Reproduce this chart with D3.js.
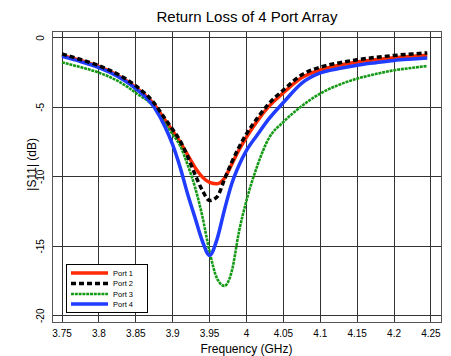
<!DOCTYPE html>
<html><head><meta charset="utf-8">
<script src="https://cdn.jsdelivr.net/npm/d3@7"></script>
<style>
html,body{margin:0;padding:0;background:#fff;}
svg{display:block;font-family:"Liberation Sans",Arial,sans-serif;}
</style></head>
<body>
<svg id="chart" width="451" height="356"></svg>
<script>
const freq = [3.75,3.775,3.8,3.825,3.85,3.875,3.89,3.9,3.91,3.92,3.93,3.94,3.95,3.96,3.97,3.98,3.99,4.0,4.015,4.03,4.05,4.075,4.1,4.125,4.15,4.175,4.2,4.225,4.245];
const port1 = [-1.25,-1.62,-2.07,-2.68,-3.55,-4.8,-5.95,-6.7,-7.5,-8.4,-9.3,-10.0,-10.4,-10.5,-10.1,-9.1,-8.05,-7.13,-5.95,-4.95,-3.95,-2.85,-2.3,-1.97,-1.73,-1.56,-1.42,-1.31,-1.24];
const port2 = [-1.15,-1.55,-2.0,-2.6,-3.45,-4.7,-5.85,-6.6,-7.4,-8.5,-9.8,-10.95,-11.7,-11.45,-10.2,-8.95,-7.85,-6.9,-5.75,-4.75,-3.75,-2.65,-2.1,-1.8,-1.57,-1.4,-1.26,-1.15,-1.08];
const port3 = [-1.76,-2.1,-2.5,-3.08,-3.95,-5.0,-6.2,-6.95,-7.75,-9.1,-10.7,-12.8,-15.4,-17.3,-17.85,-16.8,-13.9,-11.7,-9.15,-7.25,-6.05,-4.9,-4.0,-3.38,-2.93,-2.6,-2.33,-2.15,-2.02];
const port4 = [-1.33,-1.7,-2.13,-2.75,-3.65,-5.0,-6.45,-7.7,-9.3,-11.2,-12.9,-14.6,-15.65,-14.5,-12.4,-10.5,-9.15,-8.1,-6.95,-5.85,-4.65,-3.25,-2.52,-2.2,-1.96,-1.78,-1.62,-1.52,-1.45];
const seriesNames = ["Port 1","Port 2","Port 3","Port 4"];
const xTicks = [3.75,3.8,3.85,3.9,3.95,4.0,4.05,4.1,4.15,4.2,4.25];
const xTickLabels = ["3.75","3.8","3.85","3.9","3.95","4","4.05","4.1","4.15","4.2","4.25"];
const yTicks = [0,-5,-10,-15,-20];
const yTickLabels = ["0","-5","-10","-15","-20"];

(function(){
const svg = d3.select("#chart");
const pL = 52, pR = 441, pT = 31, pB = 322.7;
const x = d3.scaleLinear().domain([3.7364, 4.2636]).range([pL, pR]);
const y = d3.scaleLinear().domain([-20.5, 0.5]).range([pB, pT]);

svg.append("text").attr("x", (pL+pR)/2 + 0.5).attr("y", 22)
  .attr("text-anchor","middle").attr("font-size",15).attr("fill","#000")
  .text("Return Loss of 4 Port Array");

const grid = svg.append("g").attr("stroke","#333").attr("stroke-width",1).attr("shape-rendering","crispEdges");
grid.selectAll(".vx").data(xTicks).join("line")
  .attr("x1", d=>x(d)).attr("x2", d=>x(d)).attr("y1", pT).attr("y2", pB);
grid.selectAll(".hy").data(yTicks).join("line")
  .attr("y1", d=>y(d)).attr("y2", d=>y(d)).attr("x1", pL).attr("x2", pR);
svg.append("rect").attr("x", pL).attr("y", pT).attr("width", pR-pL).attr("height", pB-pT)
  .attr("fill","none").attr("stroke","#555").attr("stroke-width",1).attr("shape-rendering","crispEdges");

svg.append("g").selectAll("text").data(xTicks).join("text")
  .attr("x", d=>x(d)).attr("y", 337).attr("text-anchor","middle").attr("font-size",10).attr("fill","#000")
  .text((d,i)=>xTickLabels[i]);
svg.append("g").selectAll("text").data(yTicks).join("text")
  .attr("transform", d=>`translate(44,${y(d)}) rotate(-90)`)
  .attr("text-anchor","middle").attr("font-size",10).attr("fill","#000")
  .text((d,i)=>yTickLabels[i]);

svg.append("text").attr("x", (pL+pR)/2).attr("y", 353).attr("text-anchor","middle")
  .attr("font-size",12).attr("fill","#000").text("Frequency (GHz)");
svg.append("text").attr("transform", `translate(36,${y(-9.1)}) rotate(-90)`).attr("text-anchor","middle")
  .attr("font-size",12).attr("fill","#000").text("|S11| (dB)");

const styles = [
  {color:"#ff2a00", width:3.5, dash:null},
  {color:"#000000", width:3.5, dash:"5,3"},
  {color:"#169a16", width:2.6, dash:"3,0.8"},
  {color:"#1f3cff", width:3.5, dash:null}
];
const allSeries = [port1, port2, port3, port4];
const line = d3.line().x(d=>x(d[0])).y(d=>y(d[1])).curve(d3.curveMonotoneX);
svg.append("clipPath").attr("id","clip").append("rect")
  .attr("x", pL).attr("y", pT).attr("width", pR-pL).attr("height", pB-pT);
const order = [0,2,3,1];
const gLines = svg.append("g").attr("clip-path","url(#clip)");
order.forEach(i => {
  const pts = freq.map((f,k)=>[f, allSeries[i][k]]);
  gLines.append("path").attr("d", line(pts)).attr("fill","none")
    .attr("stroke", styles[i].color).attr("stroke-width", styles[i].width)
    .attr("stroke-dasharray", styles[i].dash).attr("stroke-linejoin","round");
});

const lg = svg.append("g");
lg.append("rect").attr("x", 66.5).attr("y", 264.5).attr("width", 81).attr("height", 48)
  .attr("fill","#fff").attr("stroke","#000").attr("stroke-width",1);
const legY = [273, 283.5, 294, 304];
seriesNames.forEach((n,i)=>{
  lg.append("line").attr("x1",71).attr("x2",108).attr("y1",legY[i]).attr("y2",legY[i])
    .attr("stroke", styles[i].color).attr("stroke-width", styles[i].width)
    .attr("stroke-dasharray", styles[i].dash);
  lg.append("text").attr("x",113).attr("y",legY[i]+2.5).attr("font-size",7.5).attr("fill","#000").text(n);
});
})();
</script>
</body></html>
